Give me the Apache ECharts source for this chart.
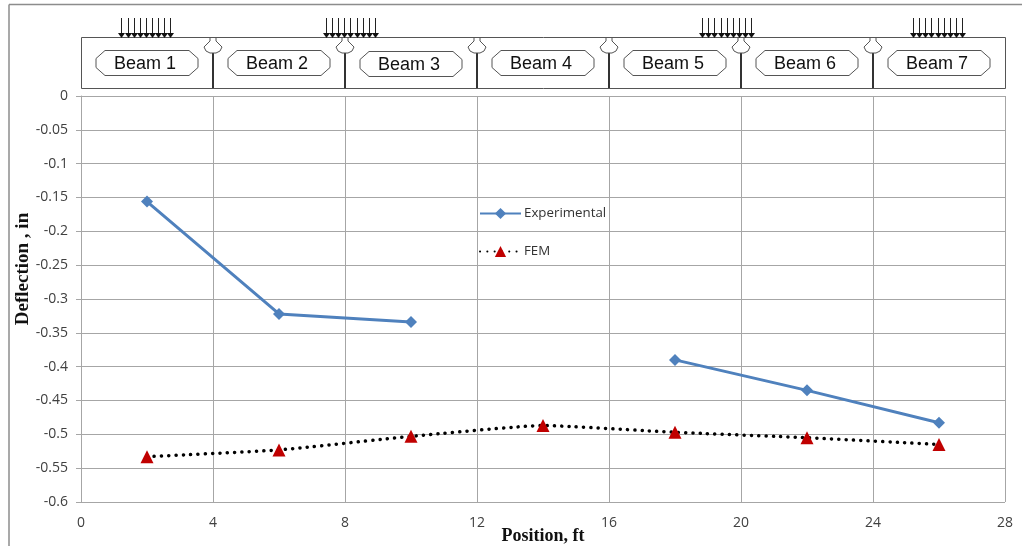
<!DOCTYPE html>
<html><head><meta charset="utf-8">
<style>html,body{margin:0;padding:0;background:#fff}#c{width:1022px;height:546px}</style>
<script src="https://cdn.jsdelivr.net/npm/echarts@6/dist/echarts.min.js"></script>
</head><body><div id="c"></div>
<script>
const positions = [2, 6, 10, 14, 18, 22, 26];
const experimental = [-0.156, -0.322, -0.334, null, -0.39, -0.435, -0.483];
const fem = [-0.533, -0.523, -0.503, -0.487, -0.497, -0.505, -0.515];
const beamNames = ['Beam 1','Beam 2','Beam 3','Beam 4','Beam 5','Beam 6','Beam 7'];
const supportPositions = [4, 8, 12, 16, 20, 24];
const loadPositions = [1.98, 8.18, 19.58, 25.97];

const chart = echarts.init(document.getElementById('c'), null, {renderer:'canvas'});
const pair = (xs, ys) => xs.map((x,i) => [x, ys[i]]);
const txt = '#404040', grid = '#a6a6a6';
chart.setOption({
  animation:false,
  backgroundColor:'#fff',
  grid:{left:81, right:17, top:96, bottom:44, outerBoundsMode:'none'},
  legend:{
    left:474, top:202, orient:'vertical', itemGap:25, itemWidth:41, itemHeight:14, padding:5,
    textStyle:{color:'#333', fontFamily:'Open Sans', fontSize:13.3, padding:[0,0,0,-2]},
    data:['Experimental','FEM']
  },
  xAxis:{
    type:'value', min:0, max:28, interval:4,
    name:'Position, ft', nameLocation:'middle', nameGap:25, nameMoveOverlap:false,
    nameTextStyle:{fontFamily:'Liberation Serif', fontWeight:'bold', fontSize:18, color:'#111'},
    axisLine:{lineStyle:{color:grid, width:1}}, axisTick:{show:false},
    axisLabel:{color:txt, fontFamily:'Open Sans', fontSize:14, margin:14},
    splitLine:{show:true, lineStyle:{color:grid, width:1}}
  },
  yAxis:{
    type:'value', min:-0.6, max:0, interval:0.05,
    name:'Deflection , in', nameLocation:'middle', nameGap:48, nameMoveOverlap:false,
    nameTextStyle:{fontFamily:'Liberation Serif', fontWeight:'bold', fontSize:19, color:'#111', padding:[0,0,0,60]},
    axisLine:{show:true, lineStyle:{color:grid, width:1}},
    axisTick:{show:true, length:5, lineStyle:{color:grid}},
    axisLabel:{color:txt, fontFamily:'Open Sans', fontSize:14, margin:13,
      formatter:v => String(Math.round(v*100)/100)},
    splitLine:{show:true, lineStyle:{color:grid, width:1}}
  },
  series:[
    {name:'Experimental', type:'line', data:pair(positions, experimental), connectNulls:false,
     symbol:'diamond', symbolSize:12, lineStyle:{color:'#4f81bd', width:3}, itemStyle:{color:'#4f81bd'}},
    {name:'FEM', type:'line', data:pair(positions, fem), smooth:0.15,
     symbol:'triangle', symbolSize:13, lineStyle:{color:'#000', width:3.5, type:[0.1,7.2], cap:'round'}, itemStyle:{color:'#c00000'}}
  ]
});

// Beam schematic above the plot; horizontal positions come from the x axis
const X = v => chart.convertToPixel({xAxisIndex:0}, v);
const g = [];
g.push({type:'rect', shape:{x:X(0)+.5, y:37.5, width:X(28)-X(0), height:51}, style:{fill:'#fff', stroke:'#555', lineWidth:1}});
beamNames.forEach((n,i)=>{
  const cx = X(positions[i]), t = i===2 ? 51.5 : 50.5, b = t+25, l = cx-51, r = cx+51;
  g.push({type:'polygon', shape:{points:[[l+9,t],[r-9,t],[r,t+8],[r,b-8],[r-9,b],[l+9,b],[l,b-8],[l,t+8]]}, style:{fill:'#fff', stroke:'#555', lineWidth:1}});
  g.push({type:'text', style:{x:cx-2, y:t+14, text:n, fill:'#111', font:'18px "Liberation Sans"', align:'center', verticalAlign:'middle'}});
});
supportPositions.forEach(p=>{
  const x = Math.round(X(p));
  g.push({type:'line', shape:{x1:x, y1:53, x2:x, y2:88}, style:{stroke:'#333', lineWidth:2}});
  g.push({type:'polygon', shape:{points:[[x-3,37.5],[x+3,37.5],[x+3,41],[x+9,47],[x+7,51],[x+3,53],[x-3,53],[x-7,51],[x-9,47],[x-3,41]]}, style:{fill:'#fff', stroke:'#555', lineWidth:1}});
});
loadPositions.forEach(p=>{
  const c = X(p);
  for(let k=-4;k<=4;k++){
    const x = Math.round(c + k*6.1 - 0.5);
    g.push({type:'line', shape:{x1:x+.5, y1:18, x2:x+.5, y2:34}, style:{stroke:'#222', lineWidth:1}});
    g.push({type:'polygon', shape:{points:[[x-3,33],[x+4,33],[x+.5,38]]}, style:{fill:'#111'}});
  }
});
// Picture frame of the reference
g.push({type:'line', shape:{x1:9, y1:4.5, x2:1022, y2:4.5}, style:{stroke:'#8c8c8c', lineWidth:1.5}});
g.push({type:'line', shape:{x1:9, y1:4.5, x2:9, y2:546}, style:{stroke:'#8c8c8c', lineWidth:1.5}});
chart.setOption({graphic:{elements:g.map(e=>Object.assign({silent:true, z:10}, e))}});
</script></body></html>
